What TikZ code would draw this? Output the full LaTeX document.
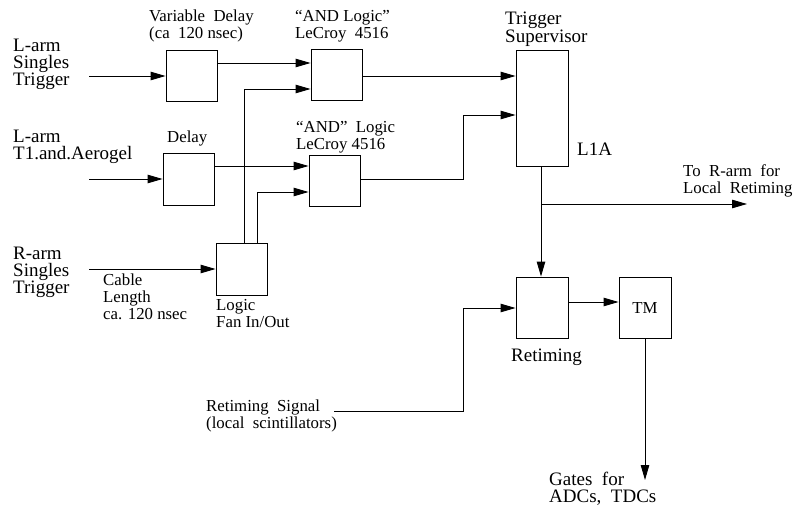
\documentclass[tikz,border=0pt]{standalone}
\usepackage{fontspec}
\setmainfont{Liberation Serif}
\usetikzlibrary{arrows.meta}
\newcommand\bigf{\fontsize{19}{17}\selectfont}
\newcommand\smf{\fontsize{16.8}{17}\selectfont}
\begin{document}
\begin{tikzpicture}[x=1pt,y=-1pt,
  blk/.style={draw, line width=0.9pt, inner sep=0pt, minimum width=51pt, minimum height=51pt},
  wire/.style={draw, line width=0.9pt},
  arr/.style={wire, -{Triangle[length=15pt,width=8.5pt]}},
  lbl/.style={anchor=north west, inner sep=0pt, align=left, font=\smf},
  biglbl/.style={lbl, font=\bigf}]
\useasboundingbox (0,0) rectangle (797,508);
% boxes
\node[blk] (vd) at (191.5,76) {};
\node[blk] (and1) at (336.5,74.5) {};
\node[blk, minimum height=52pt] (dl) at (188.5,179) {};
\node[blk] (and2) at (334.5,180.5) {};
\node[blk, minimum height=52pt] (fan) at (241.5,269) {};
\node[blk, minimum width=52pt, minimum height=116pt] (ts) at (542,108) {};
\node[blk, minimum width=52pt, minimum height=61pt] (rt) at (542,307.5) {};
\node[blk, minimum width=52pt, minimum height=61pt, font=\smf] (tm) at (645,307.5) {TM};
% free ends
\coordinate (in1) at (89,76);
\coordinate (in2) at (89,179);
\coordinate (in3) at (89,269);
\coordinate (rs) at (334,411);
\coordinate (out1) at (747,204);
\coordinate (gates) at (645,480);
% connectors
\draw[arr] (in1) -- (vd.west);
\draw[arr] (vd.east |- 0,63) -- (and1.west |- 0,63);
\draw[arr] (fan.north -| 244,0) |- (and1.west |- 0,89);
\draw[arr] (fan.north -| 257,0) |- (and2.west |- 0,192);
\draw[arr] (in2) -- (dl.west);
\draw[arr] (dl.east |- 0,166) -- (and2.west |- 0,166);
\draw[arr] (in3) -- (fan.west);
\draw[arr] (and1.east |- 0,76) -- (ts.west |- 0,76);
\draw[arr] (and2.east |- 0,179) -- (463,179) |- (ts.west |- 0,115);
\draw[arr] (ts.south -| 541,0) -- (rt.north -| 541,0);
\draw[arr] (out1 -| 541,0) -- (out1);
\draw[arr] (rs) -| (463,308) -- (rt.west |- 0,308);
\draw[arr] (rt.east |- 0,302) -- (tm.west |- 0,302);
\draw[arr] (tm.south) -- (gates);
% labels
\node[biglbl] (l1) at (13,39) {L-arm\\Singles\\Trigger};
\node[biglbl] (l2) at (13,130) {L-arm\\T1.and.Aerogel};
\node[biglbl] (l3) at (13,247) {R-arm\\Singles\\Trigger};
\node[lbl] (t1) at (149,10) {Variable\ \ Delay\\(ca\ \ 120 nsec)};
\node[lbl] (t2) at (295,10) {“AND Logic”\\LeCroy\ \ 4516};
\node[lbl] (t3) at (296,121) {“AND”\ \ Logic\\LeCroy 4516};
\node[lbl] (t4) at (167,131) {Delay};
\node[lbl] (t5) at (103,274) {Cable\\Length\\ca. 120 nsec};
\node[lbl] (t6) at (216,299) {Logic\\Fan In/Out};
\node[biglbl, font=\fontsize{19}{16}\selectfont] (t7) at (505,12) {Trigger\\Supervisor};
\node[biglbl] (t8) at (577,143) {L1A};
\node[lbl] (t9) at (683,164) {To\ \ R-arm\ \ for\\Local\ \ Retiming};
\node[biglbl] (t10) at (511,349) {Retiming};
\node[lbl] (t11) at (206,400) {Retiming\ \ Signal\\(local\ \ scintillators)};
\node[biglbl] (t12) at (549,472) {Gates\ \ for\\ADCs,\ \ TDCs};
\end{tikzpicture}
\end{document}
